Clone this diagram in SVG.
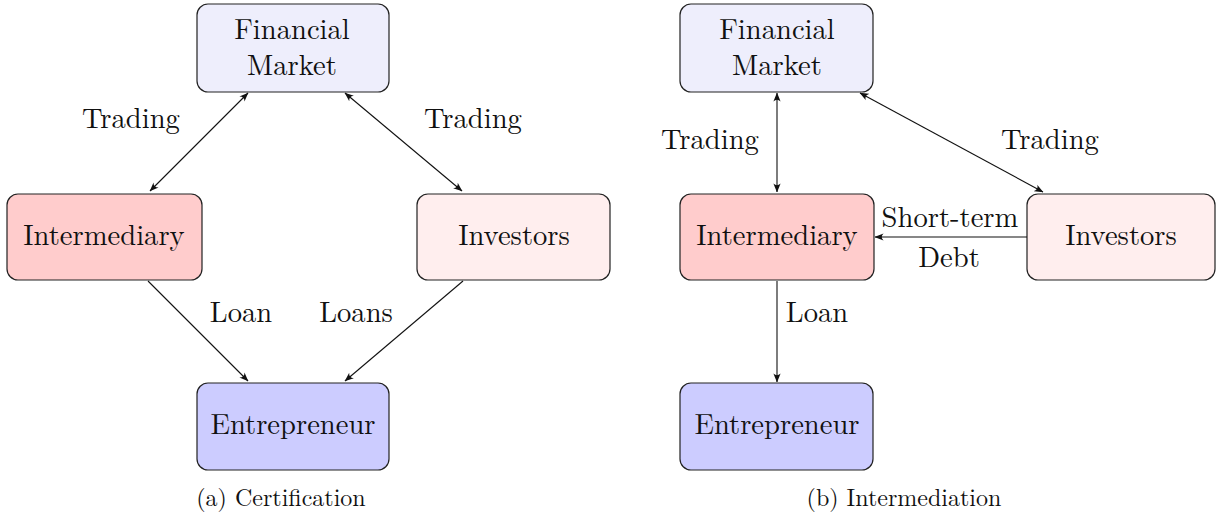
<svg xmlns="http://www.w3.org/2000/svg" width="1225" height="514" viewBox="0 0 1225 514">
<style>
.node{stroke:#222;stroke-width:1.2}
.fm{fill:#EEEEFC}
.im{fill:#FFCCCC}
.iv{fill:#FFEEEE}
.en{fill:#CCCCFF}
text{font-family:"Latin Modern Roman","Liberation Serif","Times New Roman",serif;fill:#111}
.lbl{font-size:28.6px;text-anchor:middle}
.cap{font-size:24px;text-anchor:middle}
.edge{stroke:#111;stroke-width:1.1;fill:none}
</style>
<defs>
<marker id="ah" viewBox="0 0 10 10" refX="9.5" refY="5" markerWidth="9" markerHeight="9" markerUnits="userSpaceOnUse" orient="auto-start-reverse">
<path d="M0,1 Q4,5 0,9 L10,5 Z" fill="#111"/>
</marker>
</defs>
<!-- Left diagram (a) -->
<g id="a-financial-market">
<rect class="node fm" x="197" y="4" width="192" height="88" rx="11"/>
<text class="lbl" x="292" y="39">Financial</text>
<text class="lbl" x="292" y="75">Market</text>
</g>
<g id="a-intermediary">
<rect class="node im" x="7" y="194" width="195" height="86" rx="11"/>
<text class="lbl" x="104" y="245">Intermediary</text>
</g>
<g id="a-investors">
<rect class="node iv" x="417" y="194" width="193" height="86" rx="11"/>
<text class="lbl" x="514" y="245">Investors</text>
</g>
<g id="a-entrepreneur">
<rect class="node en" x="197" y="383" width="192" height="87" rx="11"/>
<text class="lbl" x="293" y="434">Entrepreneur</text>
</g>
<!-- Right diagram (b) -->
<g id="b-financial-market">
<rect class="node fm" x="680" y="4" width="193" height="88" rx="11"/>
<text class="lbl" x="777" y="39">Financial</text>
<text class="lbl" x="777" y="75">Market</text>
</g>
<g id="b-intermediary">
<rect class="node im" x="680" y="194" width="194" height="86" rx="11"/>
<text class="lbl" x="777" y="245">Intermediary</text>
</g>
<g id="b-investors">
<rect class="node iv" x="1027" y="194" width="188" height="86" rx="11"/>
<text class="lbl" x="1121" y="245">Investors</text>
</g>
<g id="b-entrepreneur">
<rect class="node en" x="680" y="383" width="193" height="87" rx="11"/>
<text class="lbl" x="777" y="434">Entrepreneur</text>
</g>
<g id="connectors">
<line class="edge" x1="150" y1="191" x2="248" y2="93" marker-start="url(#ah)" marker-end="url(#ah)"/>
<line class="edge" x1="345" y1="93" x2="462" y2="191" marker-start="url(#ah)" marker-end="url(#ah)"/>
<line class="edge" x1="148" y1="281" x2="248" y2="381" marker-end="url(#ah)"/>
<line class="edge" x1="463" y1="281" x2="345" y2="381" marker-end="url(#ah)"/>
<line class="edge" x1="777" y1="93" x2="777" y2="192" marker-start="url(#ah)" marker-end="url(#ah)"/>
<line class="edge" x1="860" y1="93" x2="1043" y2="192" marker-start="url(#ah)" marker-end="url(#ah)"/>
<line class="edge" x1="1027" y1="237" x2="875" y2="237" marker-end="url(#ah)"/>
<line class="edge" x1="777" y1="281" x2="777" y2="382" marker-end="url(#ah)"/>
</g>
<g id="edge-labels">
<text class="lbl" x="131" y="128">Trading</text>
<text class="lbl" x="473" y="128">Trading</text>
<text class="lbl" x="241" y="322">Loan</text>
<text class="lbl" x="356" y="322">Loans</text>
<text class="lbl" x="710" y="149">Trading</text>
<text class="lbl" x="1050" y="149">Trading</text>
<text class="lbl" x="950" y="227">Short-term</text>
<text class="lbl" x="949" y="267">Debt</text>
<text class="lbl" x="817" y="322">Loan</text>
</g>
<g id="captions">
<text class="cap" x="281" y="506">(a) Certification</text>
<text class="cap" x="904" y="506">(b) Intermediation</text>
</g>
</svg>
